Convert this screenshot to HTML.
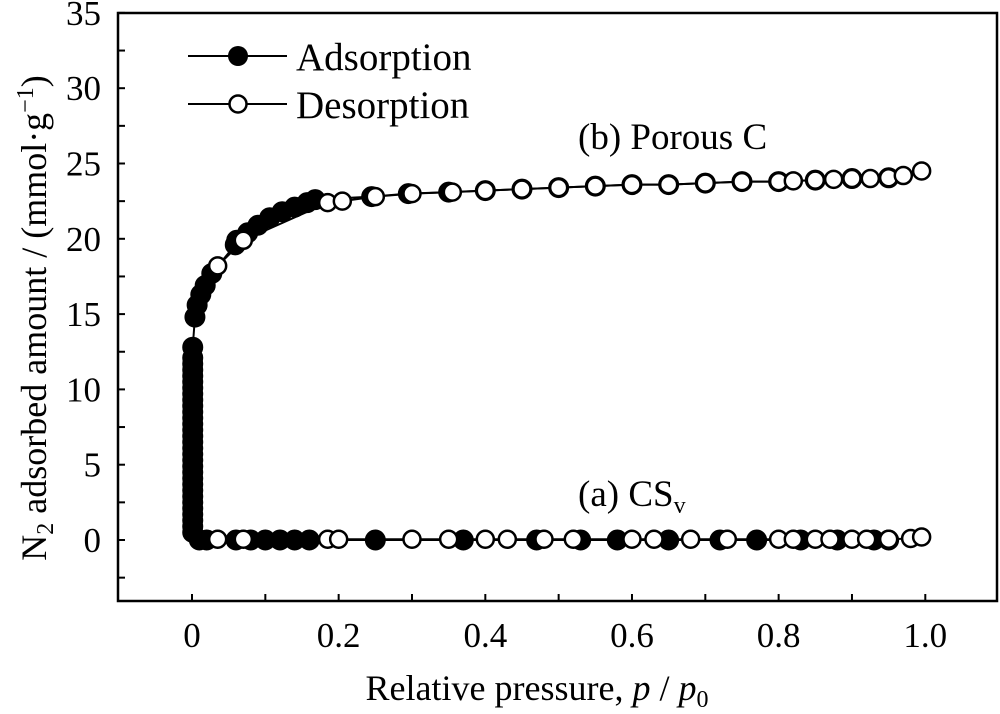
<!DOCTYPE html>
<html><head><meta charset="utf-8"><style>
html,body{margin:0;padding:0;background:#fff;}
svg{display:block;font-family:"Liberation Serif",serif;}
</style></head><body>
<svg id="chart" width="1000" height="714" viewBox="0 0 1000 714" xmlns="http://www.w3.org/2000/svg">
<rect x="118" y="13" width="879" height="588" fill="none" stroke="#000" stroke-width="2.5"/>
<g id="ticks"></g>
<g id="lines"></g>
<g id="marks"></g>
<text transform="translate(46,318) rotate(-90)" text-anchor="middle" font-size="36">N<tspan font-size="24" dy="7">2</tspan><tspan dy="-7"> adsorbed amount / (mmol·g</tspan><tspan font-size="24" dy="-13">−1</tspan><tspan dy="13">)</tspan></text>
<text x="537" y="700" text-anchor="middle" font-size="36">Relative pressure, <tspan font-style="italic">p</tspan> / <tspan font-style="italic">p</tspan><tspan font-size="24" dy="7">0</tspan></text>
<g>
<line x1="188" y1="56" x2="287" y2="56" stroke="#000" stroke-width="2"/>
<circle cx="238" cy="56" r="10" fill="#000"/>
<text x="296" y="70" font-size="39">Adsorption</text>
<line x1="188" y1="104" x2="287" y2="104" stroke="#000" stroke-width="2"/>
<circle cx="238" cy="104" r="8.5" fill="#fff" stroke="#000" stroke-width="2.5"/>
<text x="296" y="118" font-size="39">Desorption</text>
</g>
<text x="578" y="149" font-size="37">(b) Porous C</text>
<text x="578" y="506" font-size="37">(a) CS<tspan font-size="24" dy="7">v</tspan></text>
</svg>
<script>
const xTicks=[0,0.2,0.4,0.6,0.8,1.0];
const xTickLabels=["0","0.2","0.4","0.6","0.8","1.0"];
const yTicks=[0,5,10,15,20,25,30,35];
const yTickLabels=["0","5","10","15","20","25","30","35"];
const porousAdsP=[0.001,0.001,0.001,0.001,0.001,0.001,0.001,0.001,0.001,0.001,0.001,0.001,0.001,0.001,0.001,0.001,0.001,0.001,0.001,0.001,0.001,0.001,0.001,0.001,0.001,0.001,0.001,0.001,0.001,0.001,0.001,0.004,0.007,0.012,0.018,0.027,0.059,0.061,0.076,0.09,0.106,0.123,0.14,0.157,0.168,0.245,0.295,0.35,0.4,0.45,0.5,0.55,0.6,0.65,0.7,0.75,0.8,0.85,0.9,0.95];
const porousAdsV=[0.5,0.9,1.3,1.7,2.1,2.5,2.9,3.3,3.7,4.1,4.5,4.9,5.3,5.7,6.1,6.5,6.9,7.3,7.7,8.1,8.5,8.9,9.3,9.7,10.1,10.5,10.9,11.3,11.7,12.1,12.8,14.8,15.6,16.3,16.9,17.7,19.6,19.9,20.4,20.9,21.4,21.8,22.1,22.4,22.6,22.8,23.0,23.1,23.2,23.3,23.4,23.5,23.6,23.6,23.7,23.8,23.8,23.9,24.0,24.05];
const porousDesP=[0.035,0.07,0.185,0.205,0.25,0.3,0.355,0.4,0.45,0.5,0.55,0.6,0.65,0.7,0.75,0.8,0.82,0.85,0.875,0.9,0.925,0.95,0.97,0.995];
const porousDesV=[18.2,19.9,22.4,22.5,22.8,23.0,23.1,23.2,23.3,23.4,23.5,23.6,23.6,23.7,23.8,23.8,23.85,23.9,23.95,24.0,24.0,24.05,24.2,24.5];
const csvAdsP=[0.01,0.02,0.06,0.08,0.1,0.12,0.14,0.16,0.25,0.37,0.47,0.53,0.58,0.65,0.72,0.77,0.83,0.88,0.93,0.95];
const csvAdsV=[0,0,0,0,0,0,0,0,0,0,0,0,0,0,0,0,0,0,0,0];
const csvDesP=[0.035,0.07,0.185,0.2,0.3,0.35,0.4,0.43,0.48,0.52,0.6,0.63,0.68,0.73,0.8,0.82,0.85,0.87,0.9,0.92,0.95,0.98,0.995];
const csvDesV=[0.05,0.05,0.05,0.05,0.05,0.05,0.05,0.05,0.05,0.05,0.05,0.05,0.05,0.05,0.05,0.05,0.05,0.05,0.05,0.05,0.05,0.1,0.2];
const NS='http://www.w3.org/2000/svg';
const X=p=>192+p*733.3;
const Y=v=>540-v*15.06;
function mk(tag,attrs,parent){const e=document.createElementNS(NS,tag);for(const k in attrs)e.setAttribute(k,attrs[k]);parent.appendChild(e);return e;}
const tg=document.getElementById('ticks');
for(let i=-1;i<=11;i++){const p=i/10;const x=X(p);if(x<120||x>995)continue;
 const t=mk('line',{x1:x,y1:601,x2:x,y2:594,stroke:'#000','stroke-width':2},tg);
 
 }
xTicks.forEach((p,i)=>{const t=mk('text',{x:X(p),y:647,'text-anchor':'middle','font-size':35},tg);t.textContent=xTickLabels[i];
 
 });
for(let v=-2.5;v<=35;v+=2.5){const y=Y(v);
 const t=mk('line',{x1:118,y1:y,x2:125,y2:y,stroke:'#000','stroke-width':2},tg);
 
 }
yTicks.forEach((v,i)=>{const t=mk('text',{x:101,y:Y(v)+12,'text-anchor':'end','font-size':35},tg);t.textContent=yTickLabels[i];
 
 });
const lg=document.getElementById('lines'),mg=document.getElementById('marks');
function series(P,V,filled,name){
 const pts=P.map((p,i)=>X(p)+','+Y(V[i])).join(' ');
 const l=mk('polyline',{points:pts,fill:'none',stroke:'#000','stroke-width':2},lg);
 
 
 P.forEach((p,i)=>{const c=mk('circle',{cx:X(p),cy:Y(V[i]),r:filled?10:8.5,fill:filled?'#000':'#fff',stroke:'#000','stroke-width':filled?1:2.5},mg);
  
  });
}
series(csvAdsP,csvAdsV,true,'csv-adsorption');
series(csvDesP,csvDesV,false,'csv-desorption');
series(porousAdsP,porousAdsV,true,'porous-c-adsorption');
series(porousDesP,porousDesV,false,'porous-c-desorption');
</script>
</body></html>
